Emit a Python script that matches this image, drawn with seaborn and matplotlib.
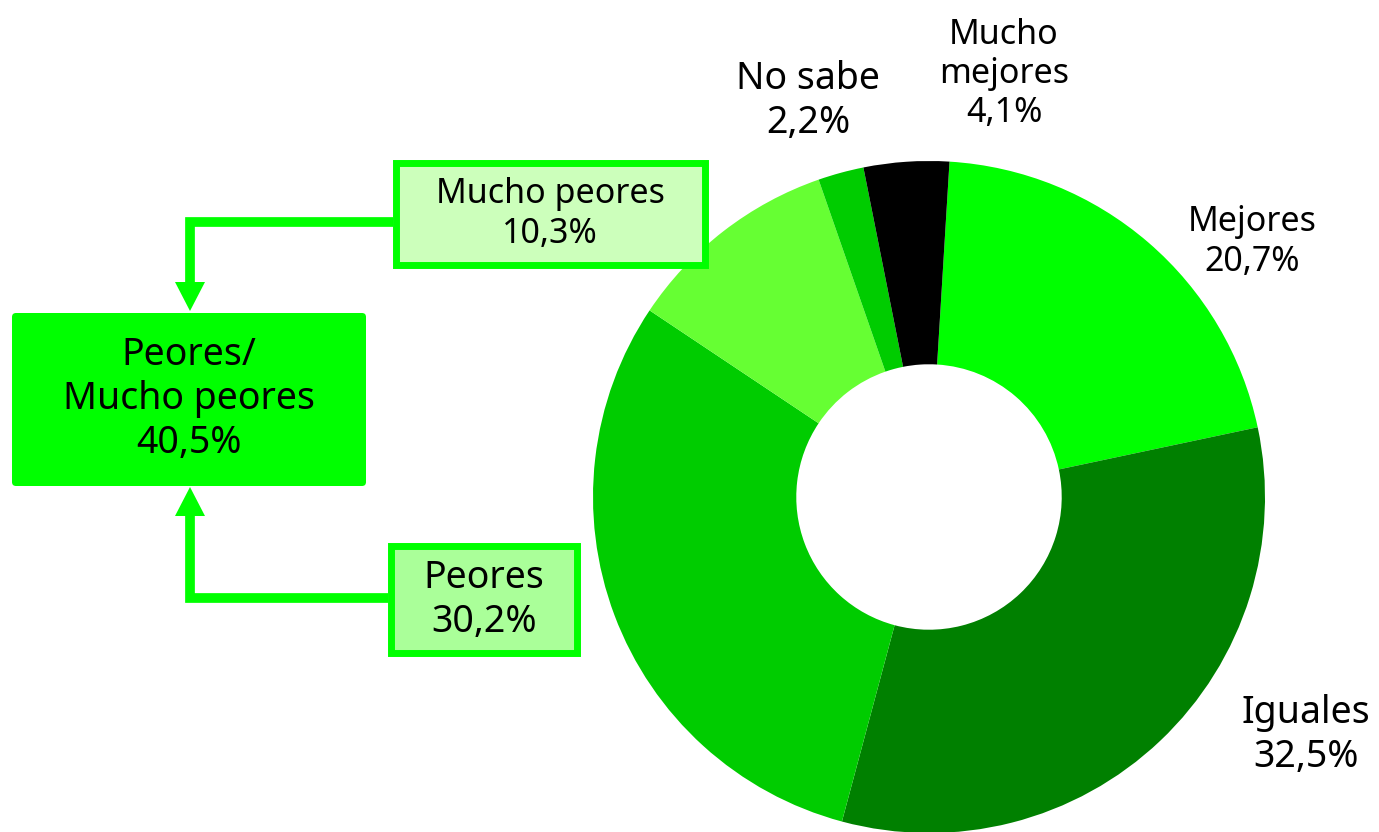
import matplotlib
matplotlib.use("Agg")
import matplotlib.pyplot as plt
from matplotlib.patches import FancyBboxPatch, Rectangle, Polygon
import seaborn as sns

# ---- data ----
categories = ["Mejores", "Iguales", "Peores", "Mucho peores", "No sabe", "Mucho mejores"]
values = [20.7, 32.5, 30.2, 10.3, 2.2, 4.1]
value_labels = ["20,7%", "32,5%", "30,2%", "10,3%", "2,2%", "4,1%"]
colors = ["#00FF00", "#008000", "#00CC00", "#66FF33", "#00CC00", "#000000"]
combined_label = "Peores/\nMucho peores"
combined_value = "40,5%"

sns.set_theme(style="white")
plt.rcParams["font.family"] = ["Noto Sans", "DejaVu Sans"]
plt.rcParams["text.color"] = "black"

W, H = 1379, 832
fig = plt.figure(figsize=(W / 100, H / 100), dpi=100)
ax = fig.add_axes([0, 0, 1, 1])

def Y(p):
    return H - p

cx, cy, r = 929, Y(497), 336
ax.pie(values, colors=colors, startangle=86.5, counterclock=False,
       center=(cx, cy), radius=r,
       wedgeprops=dict(width=r * 0.605, linewidth=0))

ax.set_xlim(0, W)
ax.set_ylim(0, H)
ax.set_aspect("equal")
ax.axis("off")

small, big = 24.5, 27
# outside labels
ax.text(1252, Y(242), f"{categories[0]}\n{value_labels[0]}", ha="center", va="center", fontsize=small)
ax.text(1306, Y(735), f"{categories[1]}\n{value_labels[1]}", ha="center", va="center", fontsize=big)
ax.text(808, Y(101), f"{categories[4]}\n{value_labels[4]}", ha="center", va="center", fontsize=big)
ax.text(1004, Y(74), "Mucho\nmejores\n" + value_labels[5], ha="center", va="center", fontsize=small)

green = "#00FF00"
# Mucho peores box
ax.add_patch(Rectangle((396, Y(265)), 309, 102, facecolor="#CCFFBB", edgecolor=green, linewidth=5, zorder=3))
ax.text(550, Y(214), f"{categories[3]}\n{value_labels[3]}", ha="center", va="center", fontsize=small, zorder=4)
# Peores box
ax.add_patch(Rectangle((391, Y(653)), 186, 107, facecolor="#AAFF99", edgecolor=green, linewidth=5, zorder=3))
ax.text(484, Y(600), f"{categories[2]}\n{value_labels[2]}", ha="center", va="center", fontsize=big, zorder=4)
# combined box
ax.add_patch(FancyBboxPatch((12, Y(486)), 354, 173, boxstyle="round,pad=0,rounding_size=4",
                            facecolor=green, edgecolor="none", zorder=3))
ax.text(189, Y(399), f"{combined_label}\n{combined_value}", ha="center", va="center", fontsize=big, zorder=4)

# connectors
lw = 7
ax.plot([393, 190, 190], [Y(222), Y(222), Y(285)], color=green, linewidth=lw,
        solid_joinstyle="miter", solid_capstyle="butt", zorder=2)
ax.add_patch(Polygon([(175, Y(282)), (205, Y(282)), (190, Y(311))], closed=True,
                     facecolor=green, edgecolor="none", zorder=2))
ax.plot([388, 190, 190], [Y(598), Y(598), Y(513)], color=green, linewidth=lw,
        solid_joinstyle="miter", solid_capstyle="butt", zorder=2)
ax.add_patch(Polygon([(175, Y(516)), (205, Y(516)), (190, Y(487))], closed=True,
                     facecolor=green, edgecolor="none", zorder=2))

fig.savefig("out.png", dpi=100, facecolor="white")
